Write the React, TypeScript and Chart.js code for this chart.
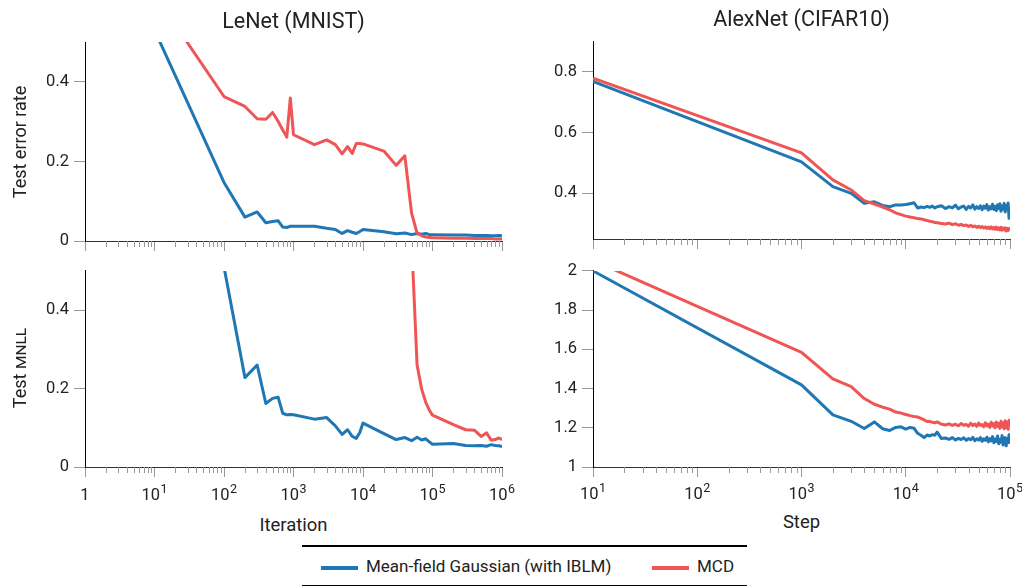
import React, { useEffect, useRef } from 'react';
import { Chart, registerables } from 'chart.js';

Chart.register(...registerables);

const FONT = 'Roboto, "Open Sans", sans-serif';
const BLUE = '#1f77b4';
const RED = '#ef5555';
const TEXT = '#222';
const TICK = '#999';

// ---------- LeNet (MNIST) ----------
const lenetIters = [10, 100, 200, 300, 400, 500, 600, 700, 800, 900, 1000, 2000, 3000, 4000, 5000, 6000, 7000, 8000, 9000, 10000, 20000, 30000, 40000, 50000, 60000, 70000, 80000, 90000, 100000, 200000, 300000, 400000, 500000, 600000, 700000, 800000, 900000, 1000000];

const lenetErrMFG = [0.53, 0.147, 0.060, 0.073, 0.046, 0.049, 0.051, 0.035, 0.034, 0.037, 0.037,
  0.037, 0.032, 0.029, 0.019, 0.026, 0.022, 0.019, 0.024, 0.029,
  0.023, 0.018, 0.020, 0.016, 0.019, 0.017, 0.019, 0.016, 0.016,
  0.015, 0.015, 0.014, 0.014, 0.014, 0.013, 0.013, 0.014, 0.013];

const lenetErrMCD = [0.62, 0.363, 0.338, 0.307, 0.306, 0.323, 0.301, 0.279, 0.261, 0.359, 0.267,
  0.242, 0.254, 0.242, 0.219, 0.237, 0.220, 0.245, 0.245, 0.244,
  0.226, 0.190, 0.214, 0.070, 0.020, 0.013, 0.010, 0.009, 0.008,
  0.007, 0.007, 0.006, 0.006, 0.006, 0.006, 0.005, 0.005, 0.005];

const lenetNllMFG = [null, 0.51, 0.228, 0.260, 0.162, 0.175, 0.178, 0.137, 0.133, 0.134, 0.133,
  0.122, 0.126, 0.105, 0.083, 0.095, 0.078, 0.073, 0.088, 0.112,
  0.085, 0.070, 0.075, 0.067, 0.076, 0.069, 0.072, 0.064, 0.058,
  0.060, 0.055, 0.054, 0.055, 0.053, 0.057, 0.055, 0.054, 0.052];

const lenetNllMCD = [null, null, null, null, null, null, null, null, null, null, null,
  null, null, null, null, null, null, null, null, null,
  null, null, null, 0.58, 0.26, 0.198, 0.165, 0.145, 0.132,
  0.108, 0.095, 0.094, 0.078, 0.087, 0.068, 0.070, 0.074, 0.070];

const lenetTickValues = [1, 10, 100, 1000, 10000, 100000, 1000000];
const lenetTickBases = ['1', '10', '10', '10', '10', '10', '10'];
const lenetTickExps = ['', '1', '2', '3', '4', '5', '6'];
const lenetDecades = [1, 10, 100, 1000, 10000, 100000];

// ---------- AlexNet (CIFAR10) ----------
const alexSteps = [10, 1000, 2000, 3000, 4000, 5000, 6000, 7000, 8000, 9000, 10000,
  11000, 12000, 13000, 14000, 15000, 16000, 17000, 18000, 19000, 20000,
  22000, 24000, 26000, 28000, 30000, 32000, 34000, 36000, 38000, 40000,
  42000, 44000, 46000, 48000, 50000, 52000, 54000, 56000, 58000, 60000,
  62000, 64000, 66000, 68000, 70000, 72000, 74000, 76000, 78000, 80000,
  82000, 84000, 86000, 88000, 90000, 92000, 94000, 96000, 98000, 100000];

const alexErrMFG = [0.767, 0.503, 0.422, 0.400, 0.367, 0.372, 0.360, 0.356, 0.362, 0.362, 0.363,
  0.366, 0.369, 0.352, 0.355, 0.353, 0.357, 0.354, 0.358, 0.352, 0.356,
  0.359, 0.350, 0.356, 0.352, 0.361, 0.349, 0.355, 0.358, 0.347, 0.357,
  0.352, 0.362, 0.348, 0.356, 0.350, 0.359, 0.346, 0.358, 0.351, 0.363,
  0.345, 0.356, 0.349, 0.364, 0.347, 0.357, 0.343, 0.362, 0.350, 0.366,
  0.341, 0.358, 0.348, 0.367, 0.339, 0.360, 0.346, 0.368, 0.318, 0.352];

const alexErrMCD = [0.778, 0.533, 0.444, 0.411, 0.376, 0.365, 0.355, 0.346, 0.336, 0.330, 0.325,
  0.322, 0.320, 0.317, 0.316, 0.313, 0.311, 0.308, 0.307, 0.304, 0.303,
  0.301, 0.299, 0.302, 0.297, 0.300, 0.295, 0.298, 0.294, 0.296, 0.291,
  0.295, 0.290, 0.293, 0.288, 0.292, 0.287, 0.291, 0.286, 0.290, 0.285,
  0.289, 0.284, 0.290, 0.283, 0.288, 0.282, 0.289, 0.281, 0.287, 0.280,
  0.288, 0.279, 0.286, 0.280, 0.287, 0.276, 0.285, 0.278, 0.284, 0.279];

const alexNllMFG = [2.000, 1.419, 1.266, 1.233, 1.196, 1.230, 1.195, 1.186, 1.202, 1.205, 1.193,
  1.202, 1.198, 1.172, 1.162, 1.150, 1.163, 1.158, 1.165, 1.162, 1.178,
  1.145, 1.148, 1.141, 1.150, 1.138, 1.146, 1.140, 1.149, 1.136, 1.145,
  1.139, 1.151, 1.134, 1.144, 1.137, 1.150, 1.131, 1.143, 1.136, 1.152,
  1.128, 1.145, 1.133, 1.155, 1.124, 1.142, 1.130, 1.158, 1.118, 1.140,
  1.127, 1.160, 1.112, 1.138, 1.150, 1.108, 1.145, 1.125, 1.165, 1.118];

const alexNllMCD = [2.054, 1.585, 1.449, 1.410, 1.349, 1.320, 1.305, 1.295, 1.280, 1.275, 1.268,
  1.262, 1.258, 1.255, 1.248, 1.240, 1.232, 1.233, 1.228, 1.225, 1.230,
  1.218, 1.214, 1.220, 1.212, 1.218, 1.210, 1.222, 1.213, 1.217, 1.208,
  1.223, 1.211, 1.219, 1.207, 1.224, 1.212, 1.216, 1.205, 1.226, 1.210,
  1.219, 1.202, 1.228, 1.209, 1.221, 1.200, 1.230, 1.207, 1.222, 1.197,
  1.233, 1.204, 1.225, 1.195, 1.236, 1.200, 1.228, 1.192, 1.238, 1.205];

const alexTickValues = [10, 100, 1000, 10000, 100000];
const alexTickBases = ['10', '10', '10', '10', '10'];
const alexTickExps = ['1', '2', '3', '4', '5'];
const alexDecades = [10, 100, 1000, 10000];

const minorMantissas = [2, 3, 4, 5, 6, 7, 8, 9];

const seriesNames = ['Mean-field Gaussian (with IBLM)', 'MCD'];

const minorTicksPlugin = {
  id: 'minorTicks',
  afterDraw(chart: any, _args: any, opts: any) {
    const scale = chart.scales.x;
    const { ctx, chartArea } = chart;
    ctx.save();
    ctx.strokeStyle = opts.color;
    ctx.lineWidth = 1;
    for (const v of opts.values as number[]) {
      if (v <= scale.min || v >= scale.max) continue;
      const px = Math.round(scale.getPixelForValue(v)) + 0.5;
      ctx.beginPath();
      ctx.moveTo(px, chartArea.bottom);
      ctx.lineTo(px, chartArea.bottom + opts.length);
      ctx.stroke();
    }
    ctx.restore();
  },
};

// Draws power-of-ten labels ("10" + raised exponent) at the x scale's tick positions.
const expLabelsPlugin = {
  id: 'expLabels',
  afterDraw(chart: any, _args: any, opts: any) {
    if (!opts.show) return;
    const scale = chart.scales.x;
    const { ctx, chartArea } = chart;
    ctx.save();
    ctx.fillStyle = TEXT;
    ctx.textBaseline = 'alphabetic';
    ctx.textAlign = 'left';
    const baseFont = `16.5px ${FONT}`;
    const expFont = `12.5px ${FONT}`;
    (opts.values as number[]).forEach((v, i) => {
      const base = opts.bases[i];
      const exp = opts.exps[i];
      ctx.font = baseFont;
      const bw = ctx.measureText(base).width;
      ctx.font = expFont;
      const ew = exp ? ctx.measureText(exp).width + 0.5 : 0;
      const x0 = scale.getPixelForValue(v) - (bw + ew) / 2;
      const y = chartArea.bottom + opts.offset;
      ctx.font = baseFont;
      ctx.fillText(base, x0, y);
      if (exp) {
        ctx.font = expFont;
        ctx.fillText(exp, x0 + bw + 0.5, y - 7);
      }
    });
    ctx.restore();
  },
};

type Series = { xs: number[]; ys: (number | null)[]; color: string; label: string; order: number };

type PanelProps = {
  left: number; top: number; width: number; height: number;
  pad: { left: number; top: number; right: number; bottom: number };
  xAxisHeight: number;
  xMin: number; xMax: number; xTicks: number[]; xBases: string[]; xExps: string[]; decades: number[];
  showXLabels: boolean; labelOffset: number;
  yMin: number; yMax: number; yStep: number;
  series: Series[];
};

function Panel(p: PanelProps) {
  const ref = useRef<HTMLCanvasElement>(null);
  useEffect(() => {
    if (!ref.current) return;
    const minors = p.decades.flatMap((d) => minorMantissas.map((m) => m * d));
    const chart = new Chart(ref.current, {
      type: 'line',
      data: {
        datasets: p.series.map((s) => ({
          label: s.label,
          data: s.xs.map((x, i) => ({ x, y: s.ys[i] })),
          borderColor: s.color,
          backgroundColor: s.color,
          borderWidth: 3,
          pointRadius: 0,
          tension: 0,
          order: s.order,
          clip: 0,
          borderJoinStyle: 'round',
        })),
      } as any,
      options: {
        animation: false,
        responsive: false,
        maintainAspectRatio: false,
        layout: { padding: p.pad },
        plugins: {
          legend: { display: false },
          tooltip: { enabled: false },
          minorTicks: { values: minors, length: 6, color: TICK },
          expLabels: { show: p.showXLabels, values: p.xTicks, bases: p.xBases, exps: p.xExps, offset: p.labelOffset },
        } as any,
        scales: {
          x: {
            type: 'logarithmic',
            min: p.xMin,
            max: p.xMax,
            afterBuildTicks: (ax: any) => {
              ax.ticks = p.xTicks.map((v) => ({ value: v }));
            },
            afterFit: (ax: any) => {
              ax.height = p.xAxisHeight;
            },
            grid: { display: true, drawOnChartArea: false, drawTicks: true, tickLength: 10, tickColor: TICK, lineWidth: 1 },
            border: { display: true, color: '#333', width: 1 },
            ticks: { display: false, autoSkip: false, maxRotation: 0, minRotation: 0 },
          },
          y: {
            type: 'linear',
            min: p.yMin,
            max: p.yMax,
            afterFit: (ax: any) => {
              ax.width = 40;
            },
            grid: { display: true, drawOnChartArea: false, drawTicks: true, tickLength: 11, tickColor: TICK, lineWidth: 1 },
            border: { display: true, color: '#000', width: 1 },
            ticks: {
              stepSize: p.yStep,
              includeBounds: false,
              padding: 5,
              color: TEXT,
              font: { family: FONT, size: 16.5 },
              callback: (v: any) => String(Math.round(Number(v) * 100) / 100),
            },
          },
        },
      } as any,
      plugins: [minorTicksPlugin as any, expLabelsPlugin as any],
    });
    return () => chart.destroy();
  }, []);
  return (
    <canvas
      ref={ref}
      width={p.width}
      height={p.height}
      style={{ position: 'absolute', left: p.left, top: p.top, width: p.width, height: p.height }}
    />
  );
}

function Label(props: { x: number; baseline: number; size: number; children: any; w?: number }) {
  const w = props.w ?? 400;
  return (
    <div
      style={{
        position: 'absolute',
        left: props.x - w / 2,
        top: props.baseline - 0.842 * props.size,
        width: w,
        textAlign: 'center',
        fontSize: props.size,
        lineHeight: `${props.size}px`,
        whiteSpace: 'nowrap',
        color: TEXT,
      }}
    >
      {props.children}
    </div>
  );
}

function VLabel(props: { cx: number; cy: number; size: number; children: any }) {
  const w = 240;
  return (
    <div
      style={{
        position: 'absolute',
        left: props.cx - w / 2,
        top: props.cy - props.size / 2,
        width: w,
        height: props.size,
        textAlign: 'center',
        fontSize: props.size,
        lineHeight: `${props.size}px`,
        whiteSpace: 'nowrap',
        color: TEXT,
        transform: 'rotate(-90deg)',
        transformOrigin: 'center center',
      }}
    >
      {props.children}
    </div>
  );
}

export default function App() {
  const blue = (xs: number[], ys: (number | null)[]): Series => ({ xs, ys, color: BLUE, label: seriesNames[0], order: 1 });
  const red = (xs: number[], ys: (number | null)[]): Series => ({ xs, ys, color: RED, label: seriesNames[1], order: 0 });
  const legendFont = 17;
  return (
    <div
      style={{
        position: 'absolute',
        left: 0,
        top: 0,
        width: 1022,
        height: 587,
        overflow: 'hidden',
        background: '#fff',
        fontFamily: FONT,
      }}
    >
      <Panel
        left={0} top={0} width={520} height={256}
        pad={{ left: 45, top: 42, right: 18, bottom: 0 }} xAxisHeight={15}
        xMin={1} xMax={1000000} xTicks={lenetTickValues} xBases={lenetTickBases} xExps={lenetTickExps} decades={lenetDecades}
        showXLabels={false} labelOffset={33} yMin={0} yMax={0.5} yStep={0.2}
        series={[blue(lenetIters, lenetErrMFG), red(lenetIters, lenetErrMCD)]}
      />
      <Panel
        left={0} top={256} width={520} height={250}
        pad={{ left: 45, top: 13, right: 18, bottom: 0 }} xAxisHeight={39}
        xMin={1} xMax={1000000} xTicks={lenetTickValues} xBases={lenetTickBases} xExps={lenetTickExps} decades={lenetDecades}
        showXLabels={true} labelOffset={33} yMin={0} yMax={0.5} yStep={0.2}
        series={[blue(lenetIters, lenetNllMFG), red(lenetIters, lenetNllMCD)]}
      />
      <Panel
        left={520} top={0} width={504} height={256}
        pad={{ left: 33, top: 41, right: 14, bottom: 0 }} xAxisHeight={17}
        xMin={10} xMax={100000} xTicks={alexTickValues} xBases={alexTickBases} xExps={alexTickExps} decades={alexDecades}
        showXLabels={false} labelOffset={31.5} yMin={0.25} yMax={0.9} yStep={0.2}
        series={[blue(alexSteps, alexErrMFG), red(alexSteps, alexErrMCD)]}
      />
      <Panel
        left={520} top={256} width={504} height={250}
        pad={{ left: 33, top: 10, right: 14, bottom: 0 }} xAxisHeight={39}
        xMin={10} xMax={100000} xTicks={alexTickValues} xBases={alexTickBases} xExps={alexTickExps} decades={alexDecades}
        showXLabels={true} labelOffset={31.5} yMin={1} yMax={2} yStep={0.2}
        series={[blue(alexSteps, alexNllMFG), red(alexSteps, alexNllMCD)]}
      />

      <Label x={293.5} baseline={28.3} size={21.5}>LeNet (MNIST)</Label>
      <Label x={801.5} baseline={25.7} size={21.5}>AlexNet (CIFAR10)</Label>
      <VLabel cx={19.8} cy={141.5} size={18}>Test error rate</VLabel>
      <VLabel cx={19.8} cy={368} size={18}>
        Test <span style={{ fontVariant: 'small-caps' }}>mnll</span>
      </VLabel>
      <Label x={293.5} baseline={531.7} size={18.5}>Iteration</Label>
      <Label x={801.5} baseline={528.3} size={18.5}>Step</Label>

      <div style={{ position: 'absolute', left: 302, top: 545, width: 445, height: 2, background: '#000' }} />
      <div style={{ position: 'absolute', left: 302, top: 585, width: 445, height: 1, background: '#000' }} />
      <div style={{ position: 'absolute', left: 321, top: 566, width: 37, height: 4, background: BLUE }} />
      <div
        style={{ position: 'absolute', left: 366, top: 572.7 - 0.842 * legendFont, fontSize: legendFont, lineHeight: `${legendFont}px`, whiteSpace: 'nowrap', color: TEXT }}
      >
        {seriesNames[0]}
      </div>
      <div style={{ position: 'absolute', left: 652, top: 566, width: 37, height: 4, background: RED }} />
      <div
        style={{ position: 'absolute', left: 697, top: 572.7 - 0.842 * legendFont, fontSize: legendFont, lineHeight: `${legendFont}px`, whiteSpace: 'nowrap', color: TEXT }}
      >
        {seriesNames[1]}
      </div>
    </div>
  );
}
